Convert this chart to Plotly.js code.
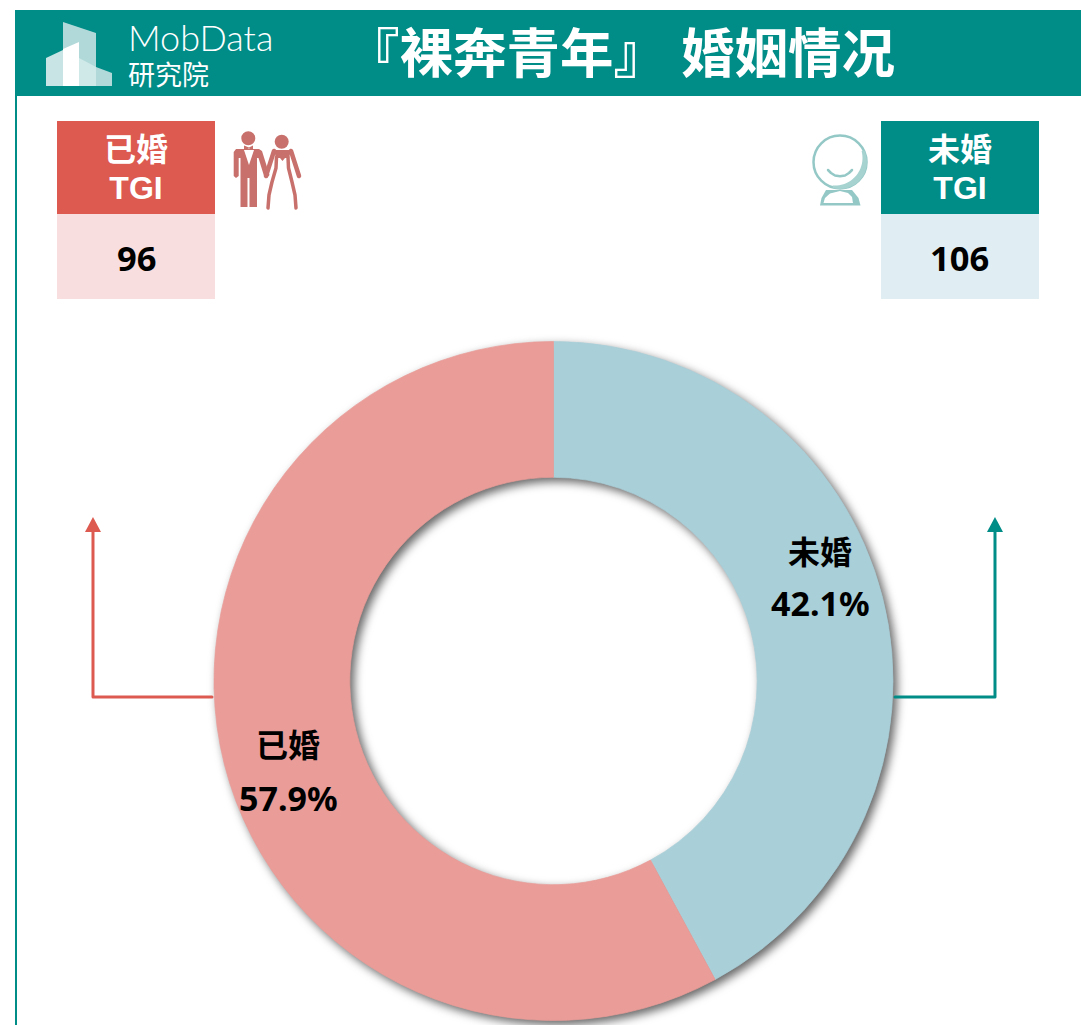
<!DOCTYPE html>
<html><head><meta charset="utf-8">
<script src="https://cdn.plot.ly/plotly-3.0.0.min.js"></script>
<style>
html,body{margin:0;padding:0;background:#fff;overflow:hidden}
#c{width:1081px;height:1025px}
.pielayer{filter:drop-shadow(4px 4px 5px rgba(0,0,0,.6))}
.shapelayer path{stroke-linecap:round;stroke-linejoin:round}
</style></head><body><div id="c"></div>
<script>
const categories = ['未婚','已婚'];
const shares = [42.1,57.9];
const sliceColors = ['#A9CFD8','#E99C98'];
const tgiSingle = 106;
const tgiMarried = 96;
const chartTitle = '『裸奔青年』 婚姻情况';

const W=1081,H=1025;
const X=x=>x/W, Y=y=>1-y/H;
const TEAL='#008C87',RED='#DC5A50',PINK='#F8DEDE',PALE='#E0EDF2',ICON='#C8716C',ICON2='#93C8C6';
const FONT='"Noto Sans","Noto Sans CJK SC",sans-serif';

function rect(x0,y0,x1,y1,c){return {type:'rect',xref:'paper',yref:'paper',x0:X(x0),x1:X(x1),y0:Y(y0),y1:Y(y1),fillcolor:c,line:{width:0},layer:'below'};}
function poly(pts,c,close=true,lw=0){
  const d=pts.map((p,i)=>(i?'L':'M')+X(p[0]).toFixed(5)+' '+Y(p[1]).toFixed(5)).join(' ')+(close?' Z':'');
  return {type:'path',xref:'paper',yref:'paper',path:d,fillcolor:close?c:'rgba(0,0,0,0)',line:{width:lw,color:c},layer:'above'};
}
function circ(cx,cy,r,fill,lw=0,lc){return {type:'circle',xref:'paper',yref:'paper',x0:X(cx-r),x1:X(cx+r),y0:Y(cy+r),y1:Y(cy-r),fillcolor:fill,line:{width:lw,color:lc||fill},layer:'above'};}
function arc(cx,cy,r,a0,a1){const o=[];for(let i=0;i<=24;i++){const a=(a0+(a1-a0)*i/24)*Math.PI/180;o.push([cx+r*Math.cos(a),cy+r*Math.sin(a)]);}return o;}
function txt(x,y,t,size,color,weight){return {xref:'paper',yref:'paper',x:X(x),y:Y(y),text:t,showarrow:false,xanchor:'center',yanchor:'middle',font:{size,color,family:FONT,weight:weight||700},borderpad:0};}
function twoLine(x,y,a,b){
  return txt(x,y,'<span style="font-size:32px">'+a+'</span><br><span style="font-size:32px;font-family:\'Liberation Sans\',sans-serif">'+b+'</span>',29.5,'#FFFFFF',700);
}

const shapes=[
  rect(15,96,17,1025,TEAL), rect(15,10,1081,96,TEAL),
  rect(57,121,215,214,RED), rect(57,214,215,299,PINK),
  rect(881,121,1039,214,TEAL), rect(881,214,1039,299,PALE),
  // logo
  poly([[63,22],[96,33],[96,86],[63,86]],'#B2D9D9'),
  poly([[46,58],[63,50],[63,86],[46,86]],'#C8E4E4'),
  poly([[63,49],[79,42],[79,86],[63,86]],'#FFFFFF'),
  poly([[79,58],[96,67],[96,86],[79,86]],'#CFE8E8'),
  poly([[96,67],[112,73],[112,86],[96,86]],'#B2D9D9'),
  // connectors
  poly([[212,697],[93,697],[93,530]],RED,false,3),
  poly([[93,517],[101,532],[85,532]],RED),
  poly([[895,697],[995,697],[995,530]],TEAL,false,3),
  poly([[995,517],[1003,532],[987,532]],TEAL),
  // groom
  circ(248.3,138.3,7,ICON),
  poly([[236,149],[259,149],[262,151],[269.5,175],[267,178],[264,176],[258.5,158],[257,158],[257,207],[249.5,207],[249.5,178],[247.5,178],[247.5,207],[240.5,207],[240.5,158],[238.7,158],[238.7,176],[236,178],[233.7,176],[233.7,152]],ICON),
  poly([[244,150],[254,150],[249,165]],'#FFFFFF'),
  poly([[244,145.5],[249,147.5],[253,145.5],[253,150],[249,148.5],[244,150]],ICON),
  // bride
  circ(281.7,141.7,7,ICON),
  poly([[274,150],[291,150],[289,158],[285,158],[282.5,161],[280,158],[276,158]],ICON),
  poly([[274,151],[266,176]],ICON,false,4.5),
  poly([[291,151],[299,176]],ICON,false,4.5),
  poly([[276.5,157],[276,168],[272,182],[269,195],[268,208]],ICON,false,3.5),
  poly([[288,157],[288.5,168],[292,182],[295,195],[296,208]],ICON,false,3.5),
  // single person
  poly([[820,205.5],[821.5,198],[826,190],[852,190],[858.5,198],[860.5,205.5]],ICON2),
  poly([[823.5,203],[825,198],[830,193.5],[840,191],[848,193],[852,197],[853,203]],'#FFFFFF'),
  circ(840,162,26.5,'#FFFFFF',2.5,ICON2),
  poly(arc(840,162,27,-25,105).concat(arc(835,158,27.5,95,-15)),'#A6D2D0'),
  poly([[828,170],[831,173],[835,175.5],[840,176.3],[845,175.5],[849,173],[852,170]],ICON2,false,2.5)
];

const annotations=[
  txt(620,52,chartTitle,53.5,'#FFFFFF',700),
  {xref:'paper',yref:'paper',x:X(126.5),y:Y(53.5),xanchor:'left',yanchor:'middle',align:'left',showarrow:false,borderpad:0,
   text:"<span style=\"font-family:Lato,'Noto Sans',sans-serif;font-size:36px;font-weight:300\">MobData</span><br><span style=\"font-size:27px;font-weight:400\">研究院</span>",
   font:{size:26,color:'#FFFFFF',family:FONT,weight:400}},
  twoLine(136,166,'已婚','TGI'),
  txt(136,257,String(tgiMarried),34.5,'#000000',700),
  twoLine(960,166,'未婚','TGI'),
  txt(960,257,String(tgiSingle),34.5,'#000000',700),
  txt(820,551,categories[0],32,'#000000',700),
  txt(820,603,shares[0].toFixed(1)+'%',34,'#000000',700),
  txt(288,744,categories[1],32,'#000000',700),
  txt(288,798,shares[1].toFixed(1)+'%',34,'#000000',700)
];

Plotly.newPlot('c',[{
  type:'pie',labels:categories,values:shares,sort:false,direction:'clockwise',rotation:0,hole:0.6,
  marker:{colors:sliceColors,line:{color:sliceColors,width:0.7}},textinfo:'none',hoverinfo:'skip',showlegend:false,
  domain:{x:[214/W,893/W],y:[1-1020.5/H,1-341.5/H]}
}],{
  width:W,height:H,margin:{l:0,r:0,t:0,b:0},paper_bgcolor:'#fff',plot_bgcolor:'#fff',
  showlegend:false,shapes,annotations,font:{family:FONT}
},{displayModeBar:false,responsive:false});
</script></body></html>
